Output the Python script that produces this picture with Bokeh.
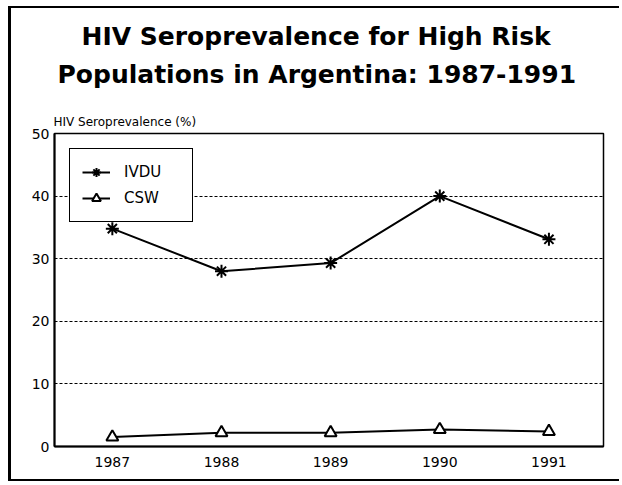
from bokeh.plotting import figure
from bokeh.models import Title, Range1d, FixedTicker, Legend
from bokeh.embed import file_html
from bokeh.resources import INLINE

# ---- data ----
years = [1987, 1988, 1989, 1990, 1991]
ivdu = [34.8, 28.0, 29.3, 40.0, 33.1]
csw = [1.5, 2.2, 2.2, 2.7, 2.4]
y_ticks = [0, 10, 20, 30, 40, 50]
title_lines = ["HIV Seroprevalence for High Risk", "Populations in Argentina: 1987-1991"]
y_title = "HIV Seroprevalence (%)"

FONT = "DejaVu Sans"

p = figure(width=611, height=475, output_backend="svg", toolbar_location=None,
           x_range=Range1d(1986.47, 1991.5), y_range=Range1d(0, 50),
           min_border_left=43, min_border_right=19, min_border_top=125, min_border_bottom=37)
p.styles = {"margin-left": "8px", "margin-top": "6px",
            "border-left": "3px solid black", "border-top": "2px solid black",
            "border-bottom": "2px solid black"}
p.background_fill_color = "white"
p.border_fill_color = "white"
p.outline_line_color = "black"
p.outline_line_width = 1.5

# axes
p.xaxis.ticker = FixedTicker(ticks=years)
p.yaxis.ticker = FixedTicker(ticks=y_ticks)
for ax in (p.xaxis, p.yaxis):
    ax.axis_line_color = "black"
    ax.axis_line_width = 2
    ax.major_tick_line_color = None
    ax.minor_tick_line_color = None
    ax.major_tick_out = 0
    ax.major_tick_in = 0
    ax.major_label_text_font = FONT
    ax.major_label_text_font_size = "14px"
    ax.major_label_text_color = "black"
p.xaxis.major_label_standoff = 10
p.yaxis.major_label_standoff = 5

p.xgrid.grid_line_color = None
p.ygrid.grid_line_color = "black"
p.ygrid.grid_line_dash = "3 2"
p.ygrid.grid_line_width = 1.2

# series
r1 = p.line(years, ivdu, line_color="black", line_width=2)
r2 = p.scatter(years, ivdu, marker="asterisk", size=13, line_color="black", line_width=2)
r3 = p.line(years, csw, line_color="black", line_width=2)
r4 = p.scatter(years, csw, marker="triangle", size=12, line_color="black", line_width=2,
               fill_color="white")

legend = Legend(items=[("IVDU", [r1, r2]), ("CSW", [r3, r4])], location="top_left")
legend.margin = 15
legend.padding = 12
legend.spacing = 4
legend.glyph_height = 22
legend.glyph_width = 28
legend.label_standoff = 14
legend.label_width = 56
legend.label_text_font = FONT
legend.label_text_font_size = "15px"
legend.label_text_color = "black"
legend.border_line_color = "black"
legend.border_line_alpha = 1
legend.border_line_width = 1.5
legend.background_fill_color = "white"
legend.background_fill_alpha = 1
p.add_layout(legend)

# titles: first added sits closest to the plot frame
p.add_layout(Title(text=y_title, text_font=FONT, text_font_size="12px",
                   text_font_style="normal", text_color="black",
                   align="left", offset=-1, standoff=10), "above")
p.add_layout(Title(text=title_lines[1], text_font=FONT, text_font_size="25px",
                   text_font_style="bold", text_color="black",
                   align="left", offset=3, standoff=37), "above")
p.add_layout(Title(text=title_lines[0], text_font=FONT, text_font_size="25px",
                   text_font_style="bold", text_color="black",
                   align="left", offset=27, standoff=-22), "above")

open("out.html", "w").write(file_html(p, INLINE))
